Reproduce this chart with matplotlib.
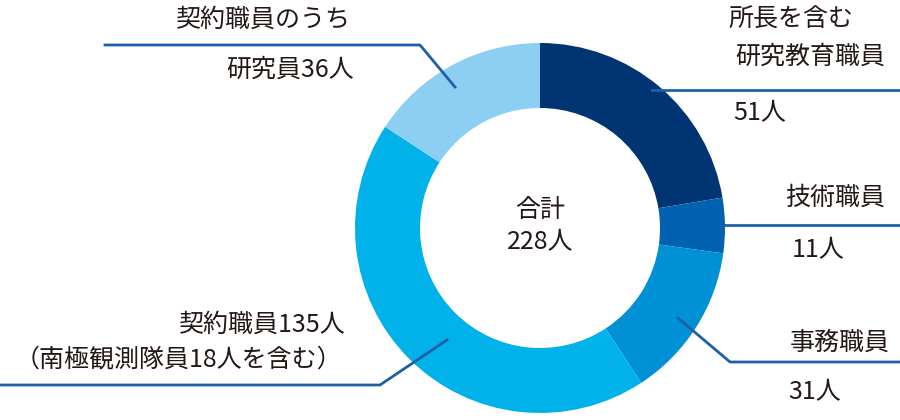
import matplotlib
matplotlib.use("Agg")
import matplotlib.pyplot as plt

plt.rcParams['font.family'] = ['Noto Sans CJK JP', 'DejaVu Sans']

categories = ['所長を含む研究教育職員', '技術職員', '事務職員', '契約職員(研究員以外)', '契約職員のうち研究員']
values = [51, 11, 31, 99, 36]
colors = ['#003473', '#0062b1', '#0090d6', '#00b1ea', '#8dcff2']
total = 228

fig = plt.figure(figsize=(9, 4.2), dpi=100)
ax = fig.add_axes([0, 0, 1, 1])

def Y(py):
    return 420 - py

cx, cy, R = 540, Y(228), 185
ax.pie(values, colors=colors, startangle=90, counterclock=False, center=(cx, cy),
       radius=R, wedgeprops=dict(width=65, edgecolor='none'), frame=True)
ax.set_xlim(0, 900)
ax.set_ylim(0, 420)
ax.set_aspect('equal')
ax.axis('off')

tc = '#231815'
fs = 18
lc = '#1f5fa6'
ax.text(cx, Y(226), f'合計\n{total}人', ha='center', va='center', fontsize=fs, color=tc, linespacing=1.3)

def line(pts):
    ax.plot([p[0] for p in pts], [Y(p[1]) for p in pts], color=lc, lw=2)

def t(x, y, s):
    ax.text(x, Y(y), s, ha='center', va='center', fontsize=fs, color=tc)

line([(455, 87), (420, 45), (105, 45)])
t(263, 20, '契約職員のうち')
t(290, 70, f'研究員{values[4]}人')

line([(652, 90), (900, 90)])
t(791, 20, '所長を含む')
t(810, 57, '研究教育職員')
t(760, 113, f'{values[0]}人')

line([(725, 225), (900, 225)])
t(835, 198, '技術職員')
t(818, 250, f'{values[1]}人')

line([(678, 318), (730, 362), (900, 362)])
t(840, 343, '事務職員')
t(815, 392, f'{values[2]}人')

line([(447, 340), (380, 385), (0, 385)])
t(262, 325, f'契約職員{values[3] + values[4]}人')
t(178, 360, '（南極観測隊員18人を含む）')

fig.savefig('out.png', dpi=100)
